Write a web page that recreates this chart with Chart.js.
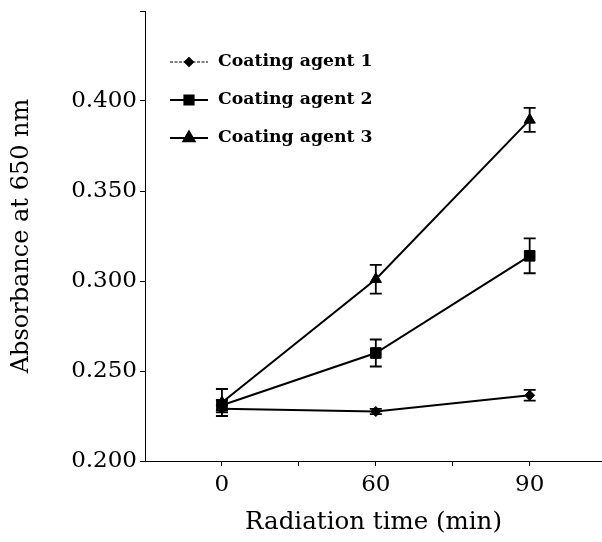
<!DOCTYPE html>
<html>
<head>
<meta charset="utf-8">
<script src="https://cdn.jsdelivr.net/npm/chart.js@4/dist/chart.umd.min.js"></script>
<style>
  html, body { margin: 0; padding: 0; background: #fff; }
  #wrap { width: 602px; height: 542px; }
</style>
</head>
<body>
<div id="wrap"><canvas id="c" width="602" height="542"></canvas></div>
<script>
// ---- data ----
const categories = ['0', '60', '90'];
const categoryPositions = [1, 3, 5];
const seriesNames = ['Coating agent 1', 'Coating agent 2', 'Coating agent 3'];
const agent1 = [0.229, 0.2275, 0.2365];
const agent2 = [0.231, 0.260, 0.314];
const agent3 = [0.2325, 0.301, 0.3895];
const agent1Err = [0.002, 0.0015, 0.003];
const agent2Err = [0.003, 0.0075, 0.0097];
const agent3Err = [0.0075, 0.008, 0.0067];
const yTicks = [0.200, 0.250, 0.300, 0.350, 0.400];
const xTitle = 'Radiation time (min)';
const yTitle = 'Absorbance at 650 nm';

const values = [agent1, agent2, agent3];
const errors = [agent1Err, agent2Err, agent3Err];
const styles = ['rectRot', 'rect', 'triangle'];
const radii = [5, 7.5, 6.5];
const FONT = '"DejaVu Serif", serif';

const datasets = values.map((vals, i) => ({
  label: seriesNames[i],
  data: vals.map((v, j) => ({ x: categoryPositions[j], y: v })),
  errors: errors[i],
  borderColor: '#000',
  backgroundColor: '#000',
  borderWidth: 2,
  pointStyle: styles[i],
  pointRadius: radii[i],
  pointBorderWidth: 1,
  pointBackgroundColor: '#000',
  pointBorderColor: '#000',
  tension: 0,
  clip: false
}));

const errorBarPlugin = {
  id: 'errorBars',
  afterDatasetsDraw(chart) {
    const ctx = chart.ctx;
    const xs = chart.scales.x, ys = chart.scales.y;
    ctx.save();
    ctx.strokeStyle = '#000';
    ctx.lineWidth = 1.8;
    chart.data.datasets.forEach(ds => {
      ds.data.forEach((p, j) => {
        const e = ds.errors[j];
        const px = xs.getPixelForValue(p.x);
        const yt = ys.getPixelForValue(p.y + e);
        const yb = ys.getPixelForValue(p.y - e);
        ctx.beginPath();
        ctx.moveTo(px, yt); ctx.lineTo(px, yb);
        ctx.moveTo(px - 6, yt); ctx.lineTo(px + 6, yt);
        ctx.moveTo(px - 6, yb); ctx.lineTo(px + 6, yb);
        ctx.stroke();
      });
    });
    ctx.restore();
  }
};

const legendPlugin = {
  id: 'inlineLegend',
  afterDraw(chart) {
    const ctx = chart.ctx;
    ctx.save();
    const rowsY = [62, 100, 138];
    const legendRadii = [4.5, 6.5, 6.5];
    chart.data.datasets.forEach((ds, i) => {
      const y = rowsY[i];
      ctx.strokeStyle = '#000';
      ctx.lineWidth = i === 0 ? 1.2 : 2;
      ctx.setLineDash(i === 0 ? [3, 1.5] : []);
      ctx.beginPath();
      ctx.moveTo(170, y); ctx.lineTo(208, y);
      ctx.stroke();
      ctx.setLineDash([]);
      Chart.helpers.drawPoint(ctx, {
        pointStyle: ds.pointStyle, radius: legendRadii[i], borderWidth: 1, rotation: 0
      }, 189, y);
      ctx.fillStyle = '#000';
      ctx.fill();
      ctx.font = 'bold 17.3px ' + FONT;
      ctx.textBaseline = 'middle';
      ctx.textAlign = 'left';
      ctx.fillText(ds.label, 218, y);
    });
    ctx.restore();
  }
};

new Chart(document.getElementById('c'), {
  type: 'line',
  data: { datasets },
  plugins: [errorBarPlugin, legendPlugin],
  options: {
    responsive: false,
    animation: false,
    devicePixelRatio: 1,
    layout: { autoPadding: false, padding: { top: 11, right: 0, left: 0, bottom: 0 } },
    plugins: { legend: { display: false }, tooltip: { enabled: false } },
    scales: {
      x: {
        type: 'linear',
        min: 0,
        max: 5.94,
        afterFit(scale) { scale.height = 81; scale.paddingRight = 0; scale.paddingLeft = 0; },
        afterBuildTicks(scale) {
          scale.ticks = [1, 2, 3, 4, 5].map(v => ({ value: v }));
        },
        ticks: {
          autoSkip: false,
          maxRotation: 0,
          padding: 5,
          color: '#000',
          font: { family: FONT, size: 23 },
          callback(v) {
            const k = categoryPositions.indexOf(v);
            return k >= 0 ? categories[k] : '';
          }
        },
        grid: { drawOnChartArea: false, drawTicks: true, tickLength: 5, color: '#000', lineWidth: 1 },
        border: { display: true, color: '#000', width: 1 },
        title: {
          display: true, text: xTitle, color: '#000',
          font: { family: FONT, size: 24.5 },
          padding: { top: 0, bottom: 5 }
        }
      },
      y: {
        type: 'linear',
        min: 0.2,
        max: 0.45,
        afterFit(scale) { scale.width = 145; scale.paddingTop = 0; scale.paddingBottom = 0; },
        afterBuildTicks(scale) {
          scale.ticks = yTicks.concat([0.45]).map(v => ({ value: v }));
        },
        ticks: {
          padding: 3,
          color: '#000',
          font: { family: FONT, size: 23 },
          callback(v) {
            return yTicks.some(t => Math.abs(t - v) < 1e-9) ? v.toFixed(3) : '';
          }
        },
        grid: { drawOnChartArea: false, drawTicks: true, tickLength: 5, color: '#000', lineWidth: 1 },
        border: { display: true, color: '#000', width: 1 },
        title: {
          display: true, text: yTitle, color: '#000',
          font: { family: FONT, size: 24 },
          padding: { top: 7, bottom: 0 }
        }
      }
    }
  }
});
</script>
</body>
</html>
